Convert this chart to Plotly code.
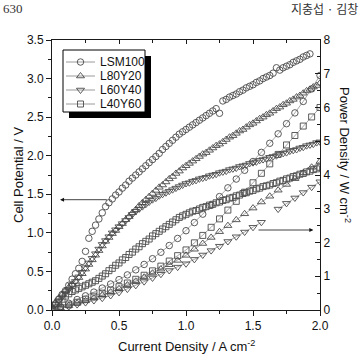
import plotly.graph_objects as go

# ---------------- data ----------------
SERIES = ["LSM100", "L80Y20", "L60Y40", "L40Y60"]

X_DENSE = [0.000, 0.025, 0.050, 0.075, 0.100, 0.125, 0.150, 0.175, 0.200, 0.225,
           0.250, 0.275, 0.300, 0.325, 0.350, 0.375, 0.400, 0.425, 0.450, 0.475,
           0.500, 0.525, 0.550, 0.575, 0.600, 0.625, 0.650, 0.675, 0.700, 0.725,
           0.750, 0.775, 0.800, 0.825, 0.850, 0.875, 0.900, 0.925, 0.950, 0.975,
           1.000, 1.025, 1.050, 1.075, 1.100, 1.125, 1.150, 1.175, 1.200, 1.225,
           1.250, 1.275, 1.300, 1.325, 1.350, 1.375, 1.400, 1.425, 1.450, 1.475,
           1.500, 1.525, 1.550, 1.575, 1.600, 1.625, 1.650, 1.675, 1.700, 1.725,
           1.750, 1.775, 1.800, 1.825, 1.850, 1.875, 1.900, 1.925, 1.950, 1.975,
           2.000]

LSM100_V = [0.02, 0.08, 0.14, 0.20, 0.25, 0.32, 0.40, 0.47, 0.54, 0.63,
            0.76, 0.93, 1.02, 1.10, 1.18, 1.26, 1.34, 1.39, 1.44, 1.49,
            1.53, 1.58, 1.62, 1.67, 1.71, 1.75, 1.79, 1.83, 1.87, 1.91,
            1.95, 1.99, 2.03, 2.08, 2.12, 2.16, 2.20, 2.24, 2.28, 2.31,
            2.34, 2.37, 2.40, 2.43, 2.46, 2.49, 2.52, 2.55, 2.58, 2.61,
            2.55, 2.71, 2.73, 2.76, 2.78, 2.80, 2.83, 2.85, 2.88, 2.90,
            2.92, 2.95, 2.97, 3.00, 3.02, 3.04, 3.07, 3.14, 3.11, 3.14,
            3.16, 3.18, 3.21, 3.23, 3.25, 3.28, 3.30, 3.32, None, None,
            None]

L80Y20_V = [0.03, 0.09, 0.15, 0.20, 0.25, 0.29, 0.33, 0.37, 0.42, 0.47,
            0.53, 0.59, 0.65, 0.71, 0.77, 0.83, 0.89, 0.94, 0.99, 1.03,
            1.08, 1.12, 1.17, 1.21, 1.26, 1.30, 1.35, 1.39, 1.43, 1.47,
            1.51, 1.55, 1.59, 1.62, 1.66, 1.70, 1.73, 1.77, 1.80, 1.84,
            1.87, 1.90, 1.93, 1.96, 1.99, 2.02, 2.04, 2.07, 2.10, 2.13,
            2.15, 2.18, 2.21, 2.24, 2.26, 2.29, 2.32, 2.34, 2.37, 2.40,
            2.42, 2.45, 2.48, 2.50, 2.53, 2.55, 2.58, 2.61, 2.63, 2.66,
            2.68, 2.71, 2.73, 2.76, 2.78, 2.81, 2.84, 2.86, 2.89, 2.91,
            2.94]

L60Y40_V = [0.02, 0.07, 0.12, 0.17, 0.22, 0.27, 0.32, 0.37, 0.43, 0.49,
            0.55, 0.61, 0.67, 0.73, 0.79, 0.85, 0.90, 0.95, 1.00, 1.04,
            1.08, 1.12, 1.16, 1.20, 1.24, 1.28, 1.31, 1.34, 1.37, 1.40,
            1.43, 1.45, 1.48, 1.50, 1.52, 1.54, 1.56, 1.58, 1.60, 1.62,
            1.64, 1.65, 1.67, 1.68, 1.70, 1.71, 1.72, 1.74, 1.75, 1.76,
            1.78, 1.79, 1.80, 1.82, 1.83, 1.84, 1.86, 1.87, 1.88, 1.90,
            1.91, 1.92, 1.94, 1.95, 1.96, 1.98, 1.99, 2.00, 2.02, 2.03,
            2.04, 2.06, 2.07, 2.08, 2.10, 2.11, 2.13, 2.14, 2.15, 2.17,
            2.18]

L40Y60_V = [0.02, 0.06, 0.10, 0.14, 0.18, 0.21, 0.24, 0.26, 0.28, 0.30,
            0.32, 0.34, 0.36, 0.38, 0.41, 0.44, 0.47, 0.51, 0.54, 0.58,
            0.61, 0.65, 0.68, 0.72, 0.75, 0.79, 0.82, 0.86, 0.89, 0.92,
            0.96, 0.99, 1.02, 1.05, 1.08, 1.11, 1.14, 1.17, 1.20, 1.22,
            1.24, 1.26, 1.28, 1.29, 1.31, 1.33, 1.34, 1.36, 1.37, 1.39,
            1.40, 1.42, 1.43, 1.45, 1.46, 1.48, 1.49, 1.51, 1.52, 1.54,
            1.55, 1.57, 1.58, 1.60, 1.61, 1.62, 1.64, 1.65, 1.67, 1.68,
            1.70, 1.71, 1.73, 1.74, 1.76, 1.77, 1.79, 1.80, 1.82, 1.83,
            1.85]

X_SPARSE = [0.0, 0.0625, 0.125, 0.1875, 0.25, 0.3125, 0.375, 0.4375, 0.5, 0.5625,
            0.625, 0.6875, 0.75, 0.8125, 0.875, 0.9375, 1.0, 1.0625, 1.125, 1.1875,
            1.25, 1.3125, 1.375, 1.4375, 1.5, 1.5625, 1.625, 1.6875, 1.75, 1.8125,
            1.875, 1.9375, 2.0]

LSM100_P = [0.00, 0.10, 0.20, 0.31, 0.42, 0.53, 0.65, 0.77, 0.90, 1.04,
            1.19, 1.35, 1.52, 1.71, 1.91, 2.12, 2.35, 2.59, 2.84, 3.10,
            3.36, 3.62, 3.88, 4.14, 4.40, 4.67, 4.94, 5.22, 5.52, 5.84,
            6.18, 6.55, 6.95]

L80Y20_P = [0.00, 0.06, 0.13, 0.20, 0.27, 0.35, 0.44, 0.53, 0.63, 0.74,
            0.85, 0.97, 1.09, 1.21, 1.34, 1.47, 1.62, 1.80, 1.97, 2.15,
            2.32, 2.50, 2.67, 2.85, 3.02, 3.20, 3.37, 3.55, 3.72, 3.89,
            4.06, 4.23, 4.40]

L60Y40_P = [0.00, 0.05, 0.10, 0.16, 0.22, 0.28, 0.35, 0.43, 0.52, 0.62,
            0.73, 0.84, 0.95, 1.06, 1.17, 1.27, 1.37, 1.50, 1.63, 1.76,
            1.89, 2.03, 2.17, 2.31, 2.45, 2.60, None, 2.99, 3.16, 3.32,
            3.48, 3.64, 3.80]

L40Y60_P = [0.00, 0.07, 0.15, 0.23, 0.32, 0.41, 0.50, 0.59, 0.69, 0.80,
            0.91, 1.03, 1.16, 1.30, 1.45, 1.61, 1.78, 1.99, 2.21, 2.45,
            2.70, 2.96, 3.22, 3.49, 3.77, 4.05, 4.33, 4.61, 4.89, 5.17,
            5.45, 5.72, 6.00]

X_TICKS = [0.0, 0.5, 1.0, 1.5, 2.0]
YL_TICKS = [0.0, 0.5, 1.0, 1.5, 2.0, 2.5, 3.0, 3.5]
YR_TICKS = [0, 1, 2, 3, 4, 5, 6, 7, 8]

# ---------------- styles ----------------
W, H = 362, 356
ML, MR, MT, MB = 52, 42, 40, 46
PW, PH = W - ML - MR, H - MT - MB
FONT = "Liberation Sans, Arial, sans-serif"
AX = "#1a1a1a"
MK = "#4a4a4a"
LN = "#808080"

SYMBOLS = {"LSM100": "circle-open", "L80Y20": "triangle-up-open",
           "L60Y40": "triangle-down-open", "L40Y60": "square-open"}
SIZES = {"LSM100": 6.5, "L80Y20": 7, "L60Y40": 7, "L40Y60": 6}
POT = {"LSM100": LSM100_V, "L80Y20": L80Y20_V, "L60Y40": L60Y40_V, "L40Y60": L40Y60_V}
POW = {"LSM100": LSM100_P, "L80Y20": L80Y20_P, "L60Y40": L60Y40_P, "L40Y60": L40Y60_P}

fig = go.Figure()

for s in SERIES:
    fig.add_trace(go.Scatter(
        x=X_DENSE, y=POT[s], mode="markers", name=s, showlegend=False,
        xaxis="x", yaxis="y",
        marker=dict(symbol=SYMBOLS[s], size=SIZES[s], color=MK, line=dict(width=0.9, color=MK))))
for s in SERIES:
    fig.add_trace(go.Scatter(
        x=X_SPARSE, y=POW[s], mode="lines+markers", name=s, showlegend=False,
        xaxis="x", yaxis="y2", connectgaps=False,
        line=dict(color=LN, width=0.7),
        marker=dict(symbol=SYMBOLS[s], size=SIZES[s], color=MK, line=dict(width=0.9, color=MK))))

# top mirror axis carrier (no data)
fig.add_trace(go.Scatter(x=[], y=[], xaxis="x2", yaxis="y", showlegend=False, hoverinfo="skip"))

# ---------------- hand-drawn legend (pixel helper axes) ----------------
LEG_L, LEG_T, LEG_R, LEG_B = 11, 10, 93, 72
SHADOW_DX, SHADOW_DY = 6, 6
ROW_Y = [22, 36, 50, 64]
SAMPLE_X0, SAMPLE_X1, TEXT_X = 14, 43, 46

shapes = [
    dict(type="rect", xref="x3", yref="y3", x0=LEG_L + SHADOW_DX, x1=LEG_R + SHADOW_DX,
         y0=LEG_T + SHADOW_DY, y1=LEG_B + SHADOW_DY, fillcolor="black", line=dict(width=0), layer="below"),
    dict(type="rect", xref="x3", yref="y3", x0=LEG_L, x1=LEG_R, y0=LEG_T, y1=LEG_B,
         fillcolor="white", line=dict(width=1, color="black"), layer="below"),
]
annotations = []
for s, ry in zip(SERIES, ROW_Y):
    fig.add_trace(go.Scatter(x=[SAMPLE_X0, SAMPLE_X1], y=[ry, ry], mode="lines", xaxis="x3", yaxis="y3",
                             showlegend=False, hoverinfo="skip", line=dict(color=LN, width=0.8)))
    fig.add_trace(go.Scatter(x=[(SAMPLE_X0 + SAMPLE_X1) / 2], y=[ry], mode="markers", xaxis="x3", yaxis="y3",
                             showlegend=False, hoverinfo="skip",
                             marker=dict(symbol=SYMBOLS[s], size=SIZES[s], color=MK, line=dict(width=0.9, color=MK))))
    annotations.append(dict(xref="x3", yref="y3", x=TEXT_X, y=ry, text=s, showarrow=False,
                            xanchor="left", yanchor="middle", font=dict(family=FONT, size=12, color="#111")))

# arrows
annotations.append(dict(xref="x", yref="y", x=0.06, y=1.43, axref="x", ayref="y", ax=0.42, ay=1.43,
                        text="", showarrow=True, arrowhead=2, arrowsize=1, arrowwidth=0.8, arrowcolor="#111"))
annotations.append(dict(xref="x", yref="y2", x=1.95, y=2.37, axref="x", ayref="y2", ax=1.53, ay=2.37,
                        text="", showarrow=True, arrowhead=2, arrowsize=1, arrowwidth=0.8, arrowcolor="#111"))

# axis titles
def px(xp):
    return (xp - ML) / PW

def py(yp):
    return (MT + PH - yp) / PH

TITLE_FONT = dict(family=FONT, size=13, color="#111")
annotations.append(dict(xref="paper", yref="paper", x=px(18), y=0.5, text="Cell Potential / V",
                        textangle=-90, showarrow=False, xanchor="center", yanchor="middle", font=TITLE_FONT))
annotations.append(dict(xref="paper", yref="paper", x=0.5, y=py(346), text="Current Density / A cm<sup>-2</sup>",
                        showarrow=False, xanchor="center", yanchor="middle", font=TITLE_FONT))
annotations.append(dict(xref="paper", yref="paper", x=px(345), y=py(155), text="Power Density / W cm<sup>-2</sup>",
                        textangle=90, showarrow=False, xanchor="center", yanchor="middle", font=TITLE_FONT))
# page header
annotations.append(dict(xref="paper", yref="paper", x=px(1), y=py(8), text="630", xanchor="left",
                        yanchor="middle", showarrow=False,
                        font=dict(family="Liberation Serif, serif", size=13, color="#333")))
annotations.append(dict(xref="paper", yref="paper", x=px(360), y=py(8), text="지충섭 · 김창", xanchor="right",
                        yanchor="middle", showarrow=False, font=dict(family="Noto Sans CJK KR", size=12, color="#333")))

axis_common = dict(showgrid=False, zeroline=False, showline=True, linecolor=AX, linewidth=1,
                   tickcolor=AX, tickwidth=1, tickfont=dict(family=FONT, size=12, color="#111"))

fig.update_layout(
    width=W, height=H, margin=dict(l=ML, r=MR, t=MT, b=MB),
    paper_bgcolor="white", plot_bgcolor="white", showlegend=False,
    xaxis=dict(range=[0, 2], tickvals=X_TICKS, tickformat=".1f", ticks="outside", ticklen=5,
               minor=dict(dtick=0.25, tick0=0, ticks="outside", ticklen=3, tickcolor=AX),
               anchor="y", **axis_common),
    xaxis2=dict(range=[0, 2], overlaying="x", side="top", anchor="y", tickvals=X_TICKS,
                ticks="inside", ticklen=4, showticklabels=False,
                minor=dict(dtick=0.25, tick0=0, ticks="inside", ticklen=3, tickcolor=AX), **axis_common),
    yaxis=dict(range=[0, 3.5], tickvals=YL_TICKS, tickformat=".1f", ticks="outside", ticklen=5,
               minor=dict(dtick=0.25, tick0=0, ticks="outside", ticklen=3, tickcolor=AX),
               anchor="x", **axis_common),
    yaxis2=dict(range=[0, 8], overlaying="y", side="right", anchor="x", tickvals=YR_TICKS,
                ticks="inside", ticklen=5,
                minor=dict(dtick=0.5, tick0=0, ticks="inside", ticklen=3, tickcolor=AX), **axis_common),
    xaxis3=dict(range=[0, PW], overlaying="x", anchor="y3", visible=False, fixedrange=True),
    yaxis3=dict(range=[PH, 0], overlaying="y", anchor="x3", visible=False, fixedrange=True),
    shapes=shapes, annotations=annotations,
)

fig.write_html("out.html")
